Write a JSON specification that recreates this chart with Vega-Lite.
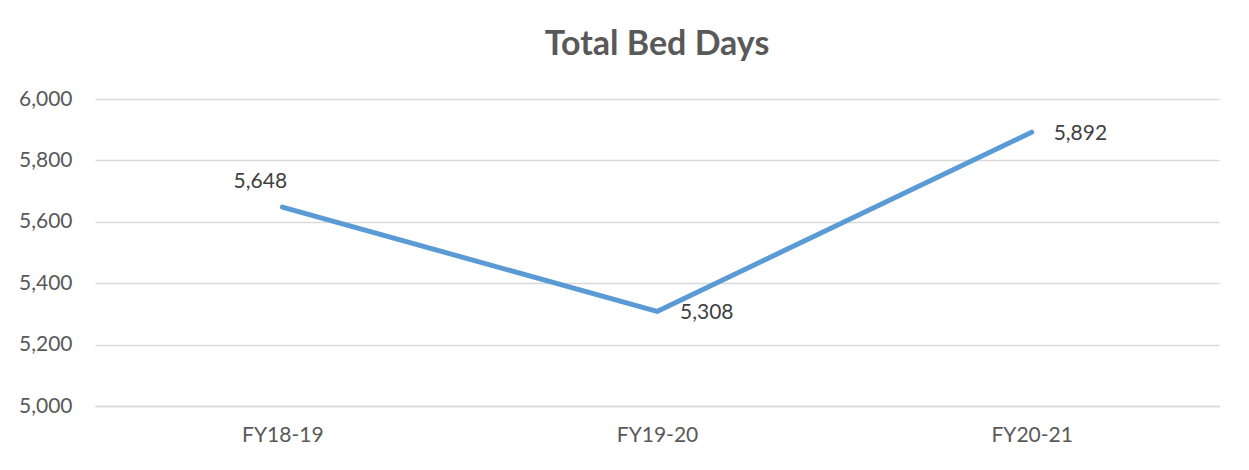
{
  "$schema": "https://vega.github.io/schema/vega-lite/v6.json",
  "autosize": {"type": "none"},
  "padding": {"left": 95, "top": 99, "right": 30, "bottom": 64},
  "width": 1124,
  "height": 307,
  "background": "white",
  "config": {"view": {"stroke": null}, "font": "Lato"},
  "title": {"text": "Total Bed Days", "fontSize": 34, "fontWeight": "bold", "color": "#595959", "font": "Lato", "offset": 26, "anchor": "middle"},
  "data": {"values": [
    {"year": "FY18-19", "days": 5648},
    {"year": "FY19-20", "days": 5308},
    {"year": "FY20-21", "days": 5892}
  ]},
  "encoding": {
    "x": {"field": "year", "type": "ordinal", "scale": {"type": "point", "padding": 0.5}, "sort": null,
      "axis": {"title": null, "labelAngle": 0, "ticks": false, "domain": true, "domainColor": "#d9d9d9", "domainWidth": 1.5, "labelFontSize": 21, "labelColor": "#595959", "labelPadding": 18, "grid": false}},
    "y": {"field": "days", "type": "quantitative", "scale": {"domain": [5000, 6000], "nice": false, "zero": false},
      "axis": {"title": null, "values": [5000, 5200, 5400, 5600, 5800, 6000], "format": ",d", "ticks": false, "domain": false, "gridColor": "#d9d9d9", "gridWidth": 1.5, "labelFontSize": 21, "labelColor": "#595959", "labelPadding": 23}}
  },
  "layer": [
    {"mark": {"type": "line", "color": "#5b9bd5", "strokeWidth": 5, "strokeCap": "round", "strokeJoin": "round"}},
    {"transform": [{"filter": "datum.year == 'FY18-19'"}],
     "mark": {"type": "text", "fontSize": 21, "color": "#404040", "baseline": "middle", "dx": -22, "dy": -25},
     "encoding": {"text": {"field": "days", "type": "quantitative", "format": ",d"}}},
    {"transform": [{"filter": "datum.year == 'FY19-20'"}],
     "mark": {"type": "text", "fontSize": 21, "color": "#404040", "align": "left", "baseline": "middle", "dx": 23, "dy": 2},
     "encoding": {"text": {"field": "days", "type": "quantitative", "format": ",d"}}},
    {"transform": [{"filter": "datum.year == 'FY20-21'"}],
     "mark": {"type": "text", "fontSize": 21, "color": "#404040", "align": "left", "baseline": "middle", "dx": 22, "dy": 2},
     "encoding": {"text": {"field": "days", "type": "quantitative", "format": ",d"}}}
  ]
}
